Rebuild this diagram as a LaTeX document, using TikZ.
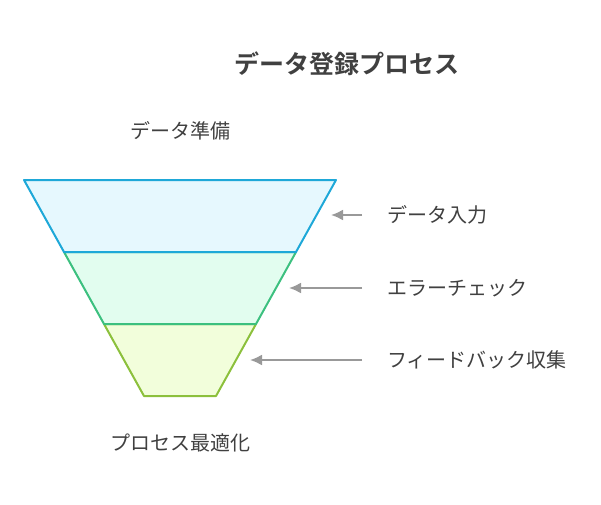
\documentclass[tikz,border=0pt]{standalone}
\usepackage{fontspec}
\usepackage{tikz}
\usetikzlibrary{arrows.meta,positioning,calc}
\newfontfamily\jpfont{Noto Sans CJK JP}
\newfontfamily\jpbold{Noto Sans CJK JP Bold}
\definecolor{txtgray}{HTML}{404040}
\definecolor{arrgray}{HTML}{999999}
\definecolor{topline}{HTML}{1EA8D8}
\definecolor{topfill}{HTML}{E6F8FE}
\definecolor{midline}{HTML}{3CC07F}
\definecolor{midfill}{HTML}{E2FDEF}
\definecolor{lowline}{HTML}{8CC03C}
\definecolor{lowfill}{HTML}{F2FEDB}

\begin{document}
\begin{tikzpicture}[x=1pt,y=-1pt,
    label/.style={text=txtgray, font=\jpfont\fontsize{20}{22}\selectfont, inner sep=0pt},
    heading/.style={text=txtgray, font=\jpbold\fontsize{25}{28}\selectfont, inner sep=0pt},
    pointer/.style={-{Latex[length=12pt,width=11pt]}, line width=2pt, color=arrgray}]
        \useasboundingbox (0,0) rectangle (601,504);
        % Draw title
        \node[heading] (title) at (347,64) {データ登録プロセス};
        % Draw funnel layers
        \filldraw[line width=2pt, draw=lowline, fill=lowfill, line join=round] (104,324) -- (256,324) -- (216,396) -- (144,396) -- cycle;
        \filldraw[line width=2pt, draw=midline, fill=midfill, line join=round] (64,252) -- (296,252) -- (256,324) -- (104,324) -- cycle;
        \filldraw[line width=2pt, draw=topline, fill=topfill, line join=round] (24,180) -- (336,180) -- (296,252) -- (64,252) -- cycle;
        % Draw top and bottom labels
        \node[label] (prep) at (180,131) {データ準備};
        \node[label] (optim) at (180,443) {プロセス最適化};
        % Draw side labels
        \node[label, anchor=west] (input) at (387,215) {データ入力};
        \node[label, anchor=west] (check) at (387,288) {エラーチェック};
        \node[label, anchor=west] (fback) at (387,360) {フィードバック収集};
        % Draw arrows
        \coordinate (inputtip) at (331,215);
        \coordinate (checktip) at (289,288);
        \coordinate (fbacktip) at (250,360);
        \draw[pointer] (input.west) ++(-25,0) coordinate (inputtail) (inputtail) -- (inputtip);
        \draw[pointer] (check.west) ++(-25,0) coordinate (checktail) (checktail) -- (checktip);
        \draw[pointer] (fback.west) ++(-25,0) coordinate (fbacktail) (fbacktail) -- (fbacktip);
    \end{tikzpicture}
\end{document}
